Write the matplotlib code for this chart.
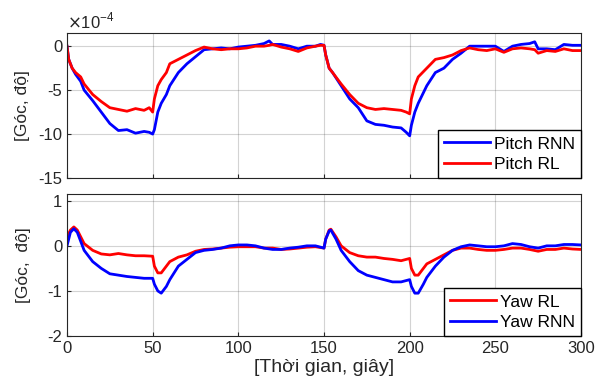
import matplotlib.pyplot as plt

plt.rcParams['font.family'] = ['Liberation Sans', 'DejaVu Sans']
plt.rcParams['axes.unicode_minus'] = False

# Pitch (x1e-4 do)
t_pitch = [0, 1, 3, 5, 8, 10, 15, 20, 25, 30, 35, 40, 45, 48, 50, 51, 53, 55, 58, 60,
           65, 70, 75, 80, 85, 90, 95, 100, 105, 110, 115, 118, 120, 125, 130, 135, 140, 145, 148, 150,
           151, 153, 155, 160, 165, 170, 175, 180, 185, 190, 195, 198, 200, 201, 203, 205, 210, 215, 220, 225,
           230, 235, 240, 245, 250, 255, 260, 265, 270, 273, 275, 280, 285, 290, 295, 300]
pitch_rnn = [0, -1.5, -2.5, -3.2, -4.0, -5.0, -6.2, -7.5, -8.8, -9.6, -9.5, -9.9, -9.7, -9.8, -10.0, -9.5, -7.5, -6.5, -5.5, -4.5,
             -3.0, -2.0, -1.2, -0.4, -0.3, -0.2, -0.3, -0.1, 0.0, 0.1, 0.3, 0.6, 0.2, 0.2, 0.0, -0.3, 0.0, 0.0, 0.2, 0.1,
             -1.0, -2.5, -3.0, -4.5, -6.0, -7.0, -8.5, -8.9, -9.0, -9.2, -9.3, -9.8, -10.2, -9.0, -7.5, -6.5, -4.5, -3.0, -2.5, -1.5,
             -0.8, 0.0, 0.0, 0.0, 0.0, -0.6, 0.0, 0.2, 0.3, 0.5, -0.3, -0.3, -0.4, 0.2, 0.1, 0.1]
pitch_rl = [0, -1.5, -2.5, -3.0, -3.5, -4.3, -5.5, -6.3, -7.0, -7.2, -7.4, -7.1, -7.3, -7.0, -7.5, -6.0, -4.5, -3.8, -3.0, -2.0,
            -1.5, -1.0, -0.5, -0.1, -0.3, -0.4, -0.3, -0.3, -0.2, 0.0, 0.0, 0.1, 0.2, -0.1, -0.3, -0.6, -0.2, 0.0, 0.1, 0.1,
            -1.0, -2.5, -3.0, -4.3, -5.5, -6.5, -7.0, -7.2, -7.1, -7.2, -7.3, -7.5, -7.7, -6.0, -4.5, -3.5, -2.5, -1.5, -1.3, -1.0,
            -0.5, -0.2, -0.4, -0.5, -0.3, -0.7, -0.3, -0.2, -0.3, -0.4, -0.8, -0.5, -0.6, -0.3, -0.5, -0.5]

# Yaw (x1e-3 do)
t_yaw = [0, 2, 4, 6, 8, 10, 15, 20, 25, 30, 35, 40, 45, 50, 51, 53, 55, 58, 60, 65,
         70, 75, 80, 85, 90, 95, 100, 105, 110, 115, 120, 125, 130, 135, 140, 145, 150, 151, 153, 154,
         157, 160, 165, 170, 175, 180, 185, 190, 195, 200, 201, 203, 205, 208, 210, 215, 220, 225, 230, 235,
         240, 245, 250, 255, 260, 265, 270, 275, 280, 285, 290, 295, 300]
yaw_rl = [0.2, 0.35, 0.42, 0.35, 0.2, 0.05, -0.1, -0.18, -0.2, -0.17, -0.2, -0.22, -0.22, -0.23, -0.45, -0.6, -0.6, -0.45, -0.35, -0.25,
          -0.2, -0.12, -0.08, -0.07, -0.05, -0.03, -0.02, -0.02, -0.02, -0.05, -0.05, -0.08, -0.07, -0.05, -0.03, -0.02, -0.05, 0.15, 0.35, 0.37,
          0.2, 0.0, -0.15, -0.22, -0.25, -0.25, -0.28, -0.3, -0.33, -0.28, -0.5, -0.65, -0.65, -0.5, -0.4, -0.3, -0.2, -0.1, -0.05, -0.05,
          -0.08, -0.1, -0.1, -0.08, -0.05, -0.05, -0.08, -0.12, -0.08, -0.08, -0.05, -0.07, -0.08]
yaw_rnn = [0.0, 0.3, 0.38, 0.3, 0.1, -0.1, -0.35, -0.5, -0.62, -0.65, -0.68, -0.7, -0.72, -0.72, -0.85, -1.0, -1.05, -0.9, -0.75, -0.45,
           -0.3, -0.15, -0.1, -0.08, -0.05, 0.0, 0.02, 0.02, 0.0, -0.05, -0.08, -0.08, -0.05, -0.03, 0.0, 0.0, -0.05, 0.15, 0.33, 0.35,
           0.15, -0.1, -0.35, -0.55, -0.65, -0.7, -0.75, -0.8, -0.8, -0.75, -0.9, -1.05, -1.05, -0.85, -0.7, -0.45, -0.25, -0.1, -0.02, 0.02,
           0.0, -0.02, -0.02, 0.0, 0.05, 0.03, -0.02, -0.05, 0.0, 0.0, 0.03, 0.03, 0.02]

fig = plt.figure(figsize=(5.95, 3.91), dpi=100)
ax1 = fig.add_axes([67 / 595, 1 - 178 / 391, 514 / 595, 145 / 391])
ax2 = fig.add_axes([67 / 595, 1 - 336 / 391, 514 / 595, 142 / 391])

leg_kw = dict(loc='lower right', fancybox=False, edgecolor='black', framealpha=1,
              fontsize=12.5, borderaxespad=0, handlelength=2.6, handletextpad=0.25,
              borderpad=0.35, labelspacing=0.3)

ax1.plot(t_pitch, pitch_rnn, color='blue', lw=2.0, label='Pitch RNN')
ax1.plot(t_pitch, pitch_rl, color='red', lw=2.0, label='Pitch RL')
ax1.set_ylim(-15, 1.5)
ax1.set_yticks([-15, -10, -5, 0])
ax1.set_xticklabels([])
ax1.set_ylabel('[Góc, độ]', fontsize=12.5, color='#262626', labelpad=6)
ax1.text(0, 1.03, r'$\times$10$^{\mathregular{-4}}$', transform=ax1.transAxes, fontsize=12, color='#262626')
ax1.legend(**leg_kw)

ax2.plot(t_yaw, yaw_rl, color='red', lw=2.0, label='Yaw RL')
ax2.plot(t_yaw, yaw_rnn, color='blue', lw=2.0, label='Yaw RNN')
ax2.set_ylim(-2, 1.15)
ax2.set_yticks([-2, -1, 0, 1])
ax2.set_ylabel('[Góc,  độ]', fontsize=12.5, color='#262626', labelpad=12)
ax2.set_xlabel('[Thời gian, giây]', fontsize=14, color='#262626', labelpad=2)
ax2.legend(**leg_kw)

for ax in (ax1, ax2):
    ax.set_xlim(0, 300)
    ax.set_xticks(range(0, 301, 50))
    ax.grid(True, color='#262626', alpha=0.2, lw=0.8)
    ax.tick_params(direction='in', labelsize=12, colors='#262626', length=3)
    for s in ax.spines.values():
        s.set_color('#262626')
        s.set_linewidth(0.8)

fig.savefig('out.png', dpi=100)
